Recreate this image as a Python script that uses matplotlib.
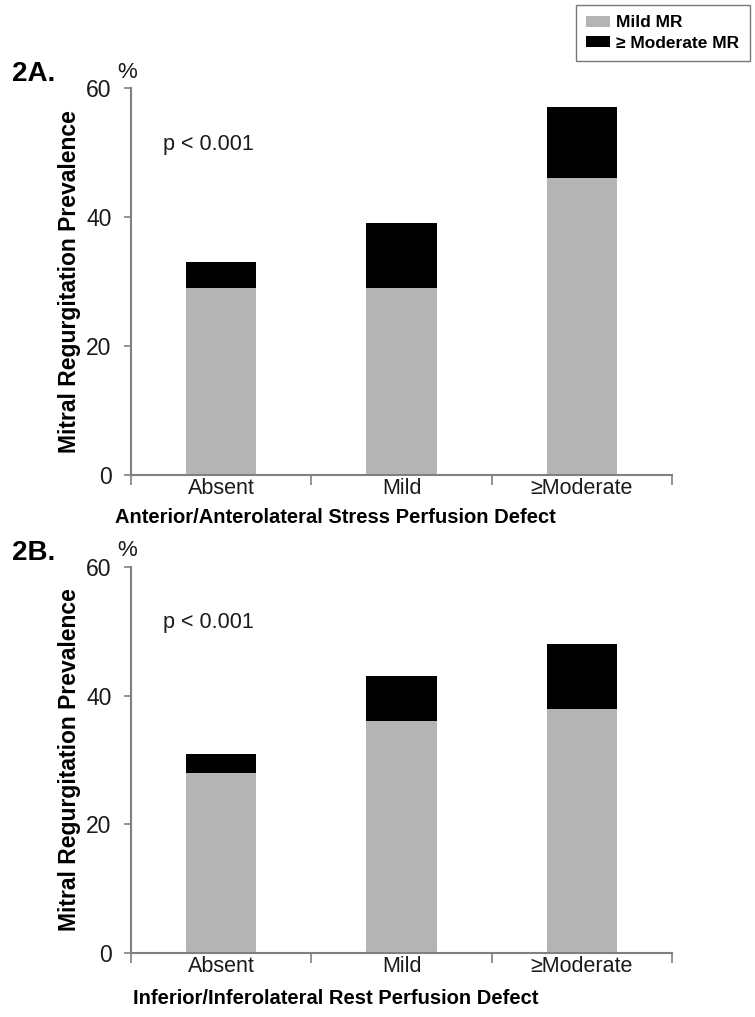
import matplotlib
matplotlib.use("Agg")
import matplotlib.pyplot as plt
from matplotlib.patches import Patch
import numpy as np

plt.rcParams['font.family'] = ['Liberation Sans', 'DejaVu Sans']

categories = ["Absent", "Mild", "\u2265Moderate"]
panel_a_mild = [29, 29, 46]
panel_a_moderate = [4, 10, 11]
panel_b_mild = [28, 36, 38]
panel_b_moderate = [3, 7, 10]
yticks = [0, 20, 40, 60]
series_labels = ["Mild MR", "\u2265 Moderate MR"]
panel_titles = ["2A.", "2B."]
xlabels = ["Anterior/Anterolateral Stress Perfusion Defect",
           "Inferior/Inferolateral Rest Perfusion Defect"]
ylabel = "Mitral Regurgitation Prevalence"
ptext = "p < 0.001"

W, H = 755, 1017
fig = plt.figure(figsize=(W / 100, H / 100), dpi=100)

gray = "#b4b4b4"
axis_col = "#808080"
text_col = "#1a1a1a"

def fx(px):
    return px / W

def fy(py):
    return 1 - py / H

panels = [
    dict(mild=panel_a_mild, mod=panel_a_moderate, top=88, bottom=475,
         xlab=xlabels[0], xlab_x=0.378, xlab_y=-0.109),
    dict(mild=panel_b_mild, mod=panel_b_moderate, top=567, bottom=953,
         xlab=xlabels[1], xlab_x=0.378, xlab_y=-0.117),
]

x = np.arange(len(categories))
left_px, right_px = 131, 672
for i, p in enumerate(panels):
    ax = fig.add_axes([fx(left_px), fy(p["bottom"]), fx(right_px) - fx(left_px),
                       (p["bottom"] - p["top"]) / H])
    ax.bar(x, p["mild"], width=0.39, color=gray, label=series_labels[0])
    ax.bar(x, p["mod"], width=0.39, bottom=p["mild"], color="black",
           label=series_labels[1])
    ax.set_xlim(-0.5, 2.5)
    ax.set_ylim(0, 60)
    ax.set_yticks(yticks)
    ax.set_yticklabels([str(v) for v in yticks], fontsize=16.5, color=text_col)
    ax.set_xticks([-0.5, 0.5, 1.5, 2.5])
    ax.set_xticklabels([])
    ax.set_xticks(x, minor=True)
    ax.set_xticklabels(categories, minor=True, fontsize=15.5, color=text_col)
    ax.tick_params(axis="x", which="major", length=7, width=1.2, color=axis_col, direction="out")
    ax.tick_params(axis="x", which="minor", length=0, pad=2)
    ax.tick_params(axis="y", length=5, width=1.2, color=axis_col, direction="out", pad=9)
    for s in ["top", "right"]:
        ax.spines[s].set_visible(False)
    for s in ["left", "bottom"]:
        ax.spines[s].set_color(axis_col)
        ax.spines[s].set_linewidth(1.5)
    ax.set_ylabel(ylabel, fontsize=16.5, fontweight="bold", va="center")
    ax.yaxis.set_label_coords(-0.113, 0.5)
    ax.set_xlabel(p["xlab"], fontsize=14.5, fontweight="bold", va="center")
    ax.xaxis.set_label_coords(p["xlab_x"], p["xlab_y"])
    ax.text(0.06, 0.855, ptext, transform=ax.transAxes, fontsize=15.5,
            color=text_col, va="center", ha="left")
    fig.text(fx(127), fy(p["top"] - 16), "%", fontsize=16, ha="center",
             va="center", color=text_col)
    fig.text(fx(12), fy(p["top"] - 14), panel_titles[i], fontsize=20,
             fontweight="bold", ha="left", va="center")

handles = [Patch(facecolor=gray, label=series_labels[0]),
           Patch(facecolor="black", label=series_labels[1])]
leg = fig.legend(handles=handles, loc="upper right",
                 bbox_to_anchor=(fx(750), fy(5)), frameon=True, fancybox=False,
                 prop=dict(size=12.5, weight="bold"), handlelength=1.4,
                 handleheight=0.55, handletextpad=0.35, labelspacing=0.3,
                 borderpad=0.6, borderaxespad=0)
leg.get_frame().set_edgecolor("#555555")
leg.get_frame().set_linewidth(1.0)

fig.savefig("out.png", dpi=100)
